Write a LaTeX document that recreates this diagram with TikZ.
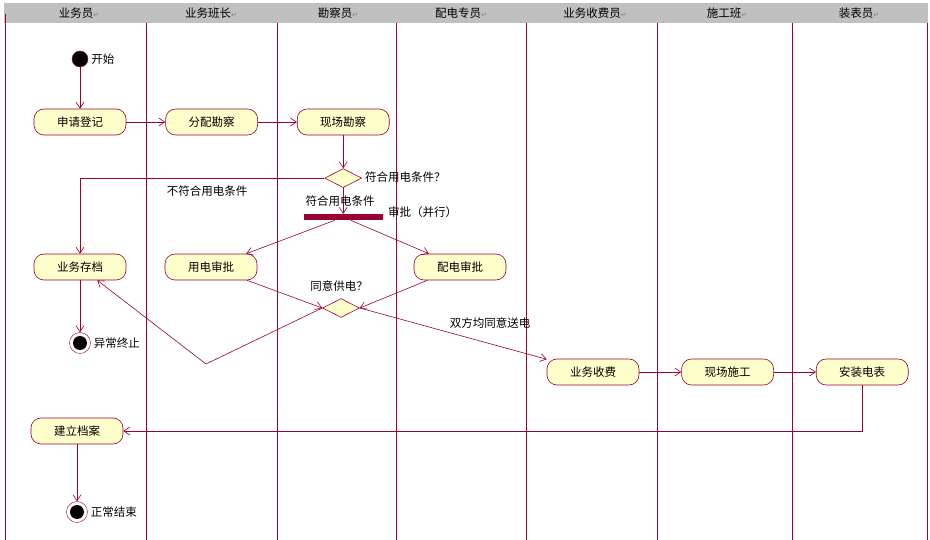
\documentclass[tikz,border=0pt]{standalone}
\usepackage{fontspec}
\setmainfont{Noto Sans CJK SC}
\newfontfamily\symfont{DejaVu Sans}
\usetikzlibrary{arrows,arrows.meta,positioning,shapes.geometric}
\definecolor{lane}{HTML}{990033}
\definecolor{actfill}{HTML}{FFFFCC}
\definecolor{headgray}{HTML}{C0C0C0}
\newcommand{\retmark}{{\symfont\fontsize{7}{8}\selectfont\color{gray}↵}}
\tikzstyle{arrow} = [lane,line width=0.6pt,->,>={Straight Barb[length=6pt,width=8pt]}]
\tikzstyle{activity} = [draw=lane,fill=actfill,line width=0.6pt,rounded corners=10pt,minimum width=92pt,minimum height=26pt,inner sep=0pt]
\tikzstyle{decision} = [draw=lane,fill=actfill,line width=0.6pt,diamond,aspect=2,minimum width=37pt,minimum height=19pt,inner sep=0pt]
\tikzstyle{forkbar} = [fill=lane,minimum width=79pt,minimum height=6pt,inner sep=0pt]
\tikzstyle{startdot} = [circle,draw=lane,fill=black,minimum size=16pt,inner sep=0pt]
\tikzstyle{enddot} = [circle,draw=lane,fill=white,minimum size=21pt,inner sep=0pt,
  path picture={\fill[black] (path picture bounding box.center) circle (7pt);}]
\tikzstyle{swimline} = [lane,line width=0.9pt]
\tikzstyle{note} = [inner sep=1pt]

\begin{document}
\begin{tikzpicture}[x=1pt, y=-1pt, font=\fontsize{11.5}{13}\selectfont]

	\useasboundingbox (0,0) rectangle (930,540);
	\fill[headgray] (4,3) rectangle (928,23);
	\draw[swimline] (5,14) -- (5,540);
	\foreach \x in {146,277,396,526,657,792,927}
		\draw[swimline] (\x,23) -- (\x,540);
	\foreach \x/\t [count=\i] in {79/业务员,211/业务班长,338/勘察员,461/配电专员,595/业务收费员,727/施工班,859/装表员}
		\node(head\i) at (\x,13) {\t\retmark};

	\node[startdot](start) at (80,59) {};
	\node[note, right=2pt of start](startname) {开始};
	\node[activity](apply) at (80,122) {申请登记};
	\node[activity, right=39pt of apply](assign) {分配勘察};
	\node[activity, right=39pt of assign](survey) {现场勘察};
	\node[decision, below=33pt of survey](check) {};
	\node[forkbar, below=26pt of check](fork) {};
	\node[activity](archive) at (80,267) {业务存档};
	\node[activity](useapprove) at (211,267) {用电审批};
	\node[activity](netapprove) at (460,267) {配电审批};
	\node[decision](agree) at (341,308) {};
	\node[enddot](abort) at (80,343) {};
	\node[note, right=2pt of abort](abortname) {异常终止};
	\coordinate(back) at (206,364);
	\node[activity](fee) at (593,372) {业务收费};
	\node[activity, right=42pt of fee](build) {现场施工};
	\node[activity, right=42pt of build](meter) {安装电表};
	\node[activity](file) at (77,431) {建立档案};
	\node[enddot](finish) at (77,512) {};
	\node[note, right=2pt of finish](finishname) {正常结束};

	\draw[arrow] (start) -- (apply);
	\draw[arrow] (apply) -- (assign);
	\draw[arrow] (assign) -- (survey);
	\draw[arrow] (survey) -- (check);
	\draw[arrow] (check) -- (fork);
	\draw[arrow] (check.west) -| (archive);
	\draw[arrow] (fork) -- (useapprove);
	\draw[arrow] (fork) -- (netapprove);
	\draw[arrow] (useapprove) -- (agree.west);
	\draw[arrow] (netapprove) -- (agree.east);
	\draw[arrow] (agree.west) -- (back) -- (archive);
	\draw[arrow] (archive) -- (abort);
	\draw[arrow] (agree.east) -- (fee);
	\draw[arrow] (fee) -- (build);
	\draw[arrow] (build) -- (meter);
	\draw[arrow] (meter) |- (file);
	\draw[arrow] (file) -- (finish);

	\node[note, anchor=west](checkname) at (364,177) {符合用电条件？};
	\node[note](refuse) at (207,191) {不符合用电条件};
	\node[note](accept) at (340,201) {符合用电条件};
	\node[note, anchor=west](forkname) at (387,212) {审批（并行）};
	\node[note](agreename) at (339,286) {同意供电？};
	\node[note](bothagree) at (490,323) {双方均同意送电};

\end{tikzpicture}
\end{document}
